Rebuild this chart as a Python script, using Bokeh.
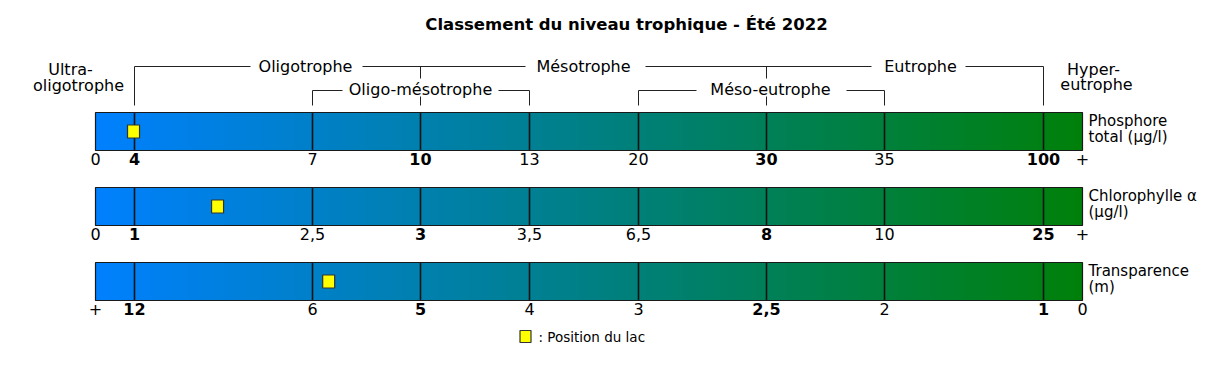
import numpy as np
from bokeh.plotting import figure
from bokeh.models import Range1d
from bokeh.core.properties import value
from bokeh.embed import file_html
from bokeh.resources import INLINE

# ---------------- data ----------------
title = "Classement du niveau trophique - Été 2022"
params = ["Phosphore\ntotal (µg/l)", "Chlorophylle α\n(µg/l)", "Transparence\n(m)"]
phos_ticks = ["0", "4", "7", "10", "13", "20", "30", "35", "100", "+"]
chl_ticks = ["0", "1", "2,5", "3", "3,5", "6,5", "8", "10", "25", "+"]
trans_ticks = ["+", "12", "6", "5", "4", "3", "2,5", "2", "1", "0"]
bold_idx = [1, 3, 6, 8]
phos_edges = [0, 4, 7, 10, 13, 20, 30, 35, 100]
chl_edges = [0, 1, 2.5, 3, 3.5, 6.5, 8, 10, 25]
trans_edges = [None, 12, 6, 5, 4, 3, 2.5, 2, 1, 0]
lake_phos = 3.9
lake_chl = 1.7
lake_trans = 5.85
legend_text = ": Position du lac"

# ---------------- layout ----------------
W, H = 1202, 366
pos = [95, 134, 312, 420, 529, 638, 766, 884, 1043, 1082]
bar_top = [112, 187, 262]
bar_h = 38
FONT = "DejaVu Sans"

p = figure(width=W, height=H, output_backend="svg", toolbar_location=None,
           x_range=Range1d(0, W), y_range=Range1d(H, 0),
           min_border=0, outline_line_color=None)
p.axis.visible = False
p.grid.visible = False
p.background_fill_color = "white"
p.border_fill_color = "white"

def txt(x, y, s, size=14, align="center", bold=False, color="black"):
    p.text(x=[x], y=[y], text=[s], text_font=value(FONT), text_font_size=f"{size}px",
           text_align=align, text_baseline="middle",
           text_font_style="bold" if bold else "normal", text_color=color)

# title
txt(626, 24, title, size=16.5, bold=True)

# gradient bars
n = 512
c0 = np.array([0, 128, 255])
c1 = np.array([0, 128, 10])
f = (np.arange(n) + 0.5) / n
rgb = (c0[None, :] * (1 - f[:, None]) + c1[None, :] * f[:, None]).astype(np.uint8)
img = np.zeros((1, n, 4), dtype=np.uint8)
img[0, :, :3] = rgb
img[0, :, 3] = 255
img32 = img.view(dtype=np.uint32).reshape((1, n))
for t in bar_top:
    p.image_rgba(image=[img32], x=pos[0], y=t, dw=pos[-1] - pos[0], dh=bar_h)
    p.segment(x0=pos[1:-1], x1=pos[1:-1], y0=[t] * 8, y1=[t + bar_h] * 8,
              line_color="#111111", line_width=1.6)
    p.quad(left=[pos[0]], right=[pos[-1]], top=[t], bottom=[t + bar_h],
           fill_color=None, line_color="#1a1a1a", line_width=1.2)

# tick labels
for t, ticks in zip(bar_top, [phos_ticks, chl_ticks, trans_ticks]):
    ty = t + bar_h + 8
    for i, s in enumerate(ticks):
        txt(pos[i], ty, s, size=16, bold=(i in bold_idx))

# parameter labels
for t, lab in zip(bar_top, params):
    l1, l2 = lab.split("\n")
    txt(1088, t + 8, l1, size=15, align="left")
    txt(1088, t + 24, l2, size=15, align="left")

# lake position markers
def to_pos(v, edges):
    return float(np.interp(v, edges, pos[:len(edges)]))
lx = [to_pos(lake_phos, phos_edges), to_pos(lake_chl, chl_edges),
      float(np.interp(-lake_trans, [-e for e in trans_edges[1:]], pos[1:]))]
ly = [t + bar_h / 2 for t in bar_top]
p.rect(x=lx, y=ly, width=12, height=13, fill_color="#ffff00", line_color="#333333", line_width=1.2)

# brackets
lc = "#222222"
top_y, sub_y, base_y = 66, 90, 105
p.segment(x0=[134, 362, 645, 965], x1=[250, 525, 871, 1043], y0=[top_y] * 4, y1=[top_y] * 4,
          line_color=lc, line_width=1)
p.segment(x0=[134, 1043, 420, 766], x1=[134, 1043, 420, 766], y0=[top_y] * 4,
          y1=[base_y, base_y, 78, 78], line_color=lc, line_width=1)
p.segment(x0=[312, 498, 638, 846], x1=[342, 529, 696, 884], y0=[sub_y] * 4, y1=[sub_y] * 4,
          line_color=lc, line_width=1)
p.segment(x0=[312, 529, 638, 884, 420, 766], x1=[312, 529, 638, 884, 420, 766],
          y0=[sub_y] * 4 + [96, 96], y1=[base_y] * 6, line_color=lc, line_width=1)

txt(305, top_y, "Oligotrophe", size=16)
txt(583, top_y, "Mésotrophe", size=16)
txt(920, top_y, "Eutrophe", size=16)
txt(420, sub_y - 1, "Oligo-mésotrophe", size=16)
txt(770, sub_y - 1, "Méso-eutrophe", size=16)
txt(70, 69, "Ultra-", size=16)
txt(78, 85, "oligotrophe", size=16)
txt(1093, 69, "Hyper-", size=16)
txt(1096, 84, "eutrophe", size=16)

# legend
p.rect(x=[525], y=[336], width=11, height=12, fill_color="#ffff00", line_color="#333333", line_width=1.2)
txt(538, 336, legend_text, size=13.5, align="left")

open("out.html", "w").write(file_html(p, INLINE))
